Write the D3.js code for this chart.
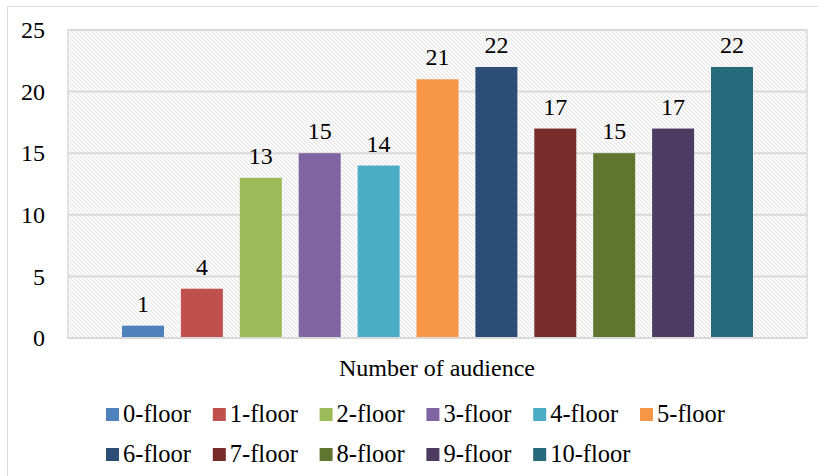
<!DOCTYPE html>
<html>
<head>
<meta charset="utf-8">
<script src="https://cdn.jsdelivr.net/npm/d3@7"></script>
<style>
body { margin: 0; background: #fff; }
text { font-family: "Liberation Serif", "Times New Roman", serif; fill: #000; }
</style>
</head>
<body>
<div id="chart"></div>
<script>
var floors = ["0-floor", "1-floor", "2-floor", "3-floor", "4-floor", "5-floor",
              "6-floor", "7-floor", "8-floor", "9-floor", "10-floor"];
var audience = [1, 4, 13, 15, 14, 21, 22, 17, 15, 17, 22];
var colors = ["#4F81BD", "#C0504D", "#9BBB59", "#8064A2", "#4BACC6", "#F79646",
              "#2C4D75", "#772C2A", "#5F7530", "#4D3B62", "#276A7C"];
var yTicks = [0, 5, 10, 15, 20, 25];
var categoryName = "Number of audience";

var width = 818, height = 476;
var plot = { left: 68, top: 30, right: 807, bottom: 338 };

var svg = d3.select("#chart").append("svg")
    .attr("width", width)
    .attr("height", height);

// hatch for plot background
var defs = svg.append("defs");
var pat = defs.append("pattern")
    .attr("id", "hatch")
    .attr("patternUnits", "userSpaceOnUse")
    .attr("width", 4)
    .attr("height", 4);
pat.append("rect").attr("width", 4).attr("height", 4).attr("fill", "#fff");
pat.append("path")
    .attr("d", "M-1,-1 L5,5 M-1,3 L1,5 M3,-1 L5,1")
    .attr("stroke", "#e6e6e6")
    .attr("stroke-width", 1.2);

// outer frame
svg.append("rect")
    .attr("x", 7.5).attr("y", 6.5)
    .attr("width", 830).attr("height", 490)
    .attr("fill", "none")
    .attr("stroke", "#d9d9d9");

var y = d3.scaleLinear().domain([0, 25]).range([plot.bottom, plot.top]);
var x = d3.scaleBand().domain(floors)
    .range([122, 753])
    .paddingInner(0.287).paddingOuter(0);

svg.append("rect")
    .attr("x", plot.left).attr("y", plot.top)
    .attr("width", plot.right - plot.left)
    .attr("height", plot.bottom - plot.top)
    .attr("fill", "url(#hatch)")
    .attr("stroke", "#d9d9d9")
    .attr("stroke-width", 1.5);

// gridlines
svg.append("g").selectAll("line")
    .data(yTicks.slice(1))
    .enter().append("line")
    .attr("x1", plot.left).attr("x2", plot.right)
    .attr("y1", function(d) { return y(d); })
    .attr("y2", function(d) { return y(d); })
    .attr("stroke", "#d9d9d9")
    .attr("stroke-width", 2);

// y axis labels
var yAxis = d3.axisLeft(y).tickValues(yTicks).tickSize(0).tickPadding(23);
var yg = svg.append("g")
    .attr("transform", "translate(" + plot.left + ",0)")
    .call(yAxis);
yg.select(".domain").remove();
yg.selectAll("text")
    .style("font-family", '"Liberation Serif", "Times New Roman", serif')
    .style("font-size", "24px")
    .attr("dy", "0.32em");

// bars
svg.append("g").selectAll("rect")
    .data(audience)
    .enter().append("rect")
    .attr("x", function(d, i) { return x(floors[i]); })
    .attr("y", function(d) { return y(d); })
    .attr("width", x.bandwidth())
    .attr("height", function(d) { return y(0) - y(d); })
    .attr("fill", function(d, i) { return colors[i]; });

// baseline
svg.append("line")
    .attr("x1", plot.left).attr("x2", plot.right)
    .attr("y1", y(0)).attr("y2", y(0))
    .attr("stroke", "#d9d9d9")
    .attr("stroke-width", 2);

// data labels
svg.append("g").selectAll("text")
    .data(audience)
    .enter().append("text")
    .attr("x", function(d, i) { return x(floors[i]) + x.bandwidth() / 2; })
    .attr("y", function(d) { return y(d) - 14; })
    .attr("text-anchor", "middle")
    .style("font-size", "24px")
    .text(function(d) { return d; });

// category label
svg.append("text")
    .attr("x", 437).attr("y", 376)
    .attr("text-anchor", "middle")
    .style("font-size", "24px")
    .text(categoryName);

// legend
var legend = svg.append("g").selectAll("g")
    .data(floors)
    .enter().append("g")
    .attr("transform", function(d, i) {
        var col = i < 6 ? i : i - 6;
        var row = i < 6 ? 0 : 1;
        return "translate(" + (106 + col * 106.8) + "," + (408 + row * 40) + ")";
    });
legend.append("rect")
    .attr("width", 13).attr("height", 13)
    .attr("fill", function(d, i) { return colors[i]; });
legend.append("text")
    .attr("x", 17).attr("y", 14)
    .style("font-size", "24.5px")
    .text(function(d) { return d; });
</script>
</body>
</html>
